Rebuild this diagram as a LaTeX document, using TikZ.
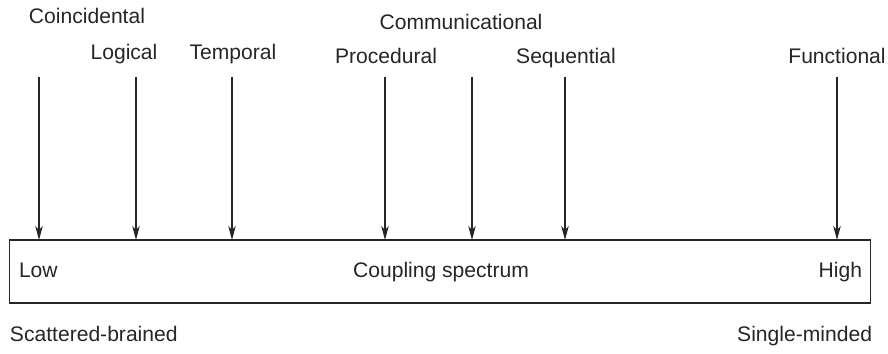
\documentclass[tikz,border=0pt]{standalone}
\usepackage{fontspec}
\setmainfont{Liberation Sans}
\usepackage{tikz}
\usetikzlibrary{arrows.meta,positioning}

\begin{document}
\begin{tikzpicture}[
  x=0.02cm, y=-0.02cm,
  font=\fontsize{12pt}{14pt}\selectfont, >={Stealth[length=0.28cm,width=0.15cm,inset=0.08cm]},
  lbl/.style={inner sep=0pt, outer sep=0pt, anchor=base, text=black!85},
  spec/.style={draw=black!85, line width=0.6pt, minimum width=17.24cm, minimum height=1.26cm,
    inner sep=0pt, outer sep=0pt},
  arr/.style={->, line width=0.6pt, draw=black!85}
]
\useasboundingbox (0,0) rectangle (888,354);
\def\yTop{77} \def\yA{24} \def\yB{60} \def\yC{30} \def\yD{64}

% coupling spectrum bar
\node[spec] (bar) at (440,271.5) {};
\node[lbl] (mid) at (441,277) {Coupling spectrum};
\node[lbl, anchor=base west] (low) at (19,277) {Low};
\node[lbl, anchor=base east] (high) at (862,277) {High};

% cohesion kinds
\node[lbl] (coin) at (87,\yA) {Coincidental};
\node[lbl] (logi) at (124,\yB) {Logical};
\node[lbl] (temp) at (233,\yB) {Temporal};
\node[lbl] (comm) at (461,\yC) {Communicational};
\node[lbl] (proc) at (386,\yD) {Procedural};
\node[lbl] (sequ) at (566,\yD) {Sequential};
\node[lbl] (func) at (837,\yD) {Functional};

\coordinate (tCoin) at (39,\yTop);
\coordinate (tLogi) at (136,\yTop);
\coordinate (tTemp) at (232,\yTop);
\coordinate (tProc) at (385,\yTop);
\coordinate (tComm) at (472,\yTop);
\coordinate (tSequ) at (565,\yTop);
\coordinate (tFunc) at (837,\yTop);

\foreach \t in {tCoin,tLogi,tTemp,tProc,tComm,tSequ,tFunc}
  \draw[arr] (\t) -- (\t |- bar.north);

% ends of the scale
\node[lbl, anchor=base west] (scat) at (10,341) {Scattered-brained};
\node[lbl, anchor=base east] (sing) at (872,341) {Single-minded};
\end{tikzpicture}
\end{document}
